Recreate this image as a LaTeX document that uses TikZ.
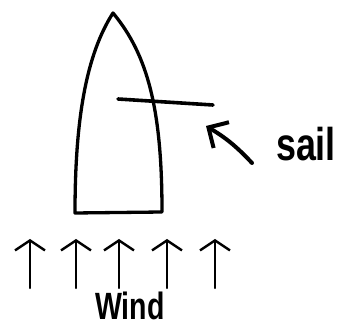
\documentclass[tikz,border=0pt]{standalone}
\usepackage{fontspec}
\setmainfont{Liberation Sans}
\usetikzlibrary{arrows.meta}
\tikzset{
  hull/.style={line width=3.3pt, line join=round, line cap=round},
  windarrow/.style={line width=2.4pt, line cap=round, -{Straight Barb[length=10pt,width=30pt,line width=2.4pt]}},
  sailarrow/.style={line width=4pt, line cap=round, -{Straight Barb[length=15pt,width=30pt,line width=4pt]}},
  lbl/.style={inner sep=0pt, text depth=0pt, font=\bfseries\fontsize{46}{46}\selectfont}
}
\begin{document}
\begin{tikzpicture}[x=1pt,y=-1pt]
\useasboundingbox (0,0) rectangle (343,328);
% hull
\coordinate (tip) at (113,13);
\coordinate (bl) at (75,213);
\coordinate (br) at (162,212);
\draw[hull] (bl) .. controls (75,120) and (86,55) .. (tip)
  .. controls (148,55) and (162,110) .. (br) -- cycle;
% sail
\coordinate (s1) at (118,99);
\coordinate (s2) at (213,105);
\draw[hull, line width=3.6pt] (s1) -- (s2);
% sail pointer
\coordinate (pa) at (252,163);
\coordinate (pb) at (206,126);
\draw[sailarrow] (pa) to[bend right=8] (pb);
\node[lbl, xscale=0.78, anchor=base] (sail) at (306,161) {sail};
% wind arrows
\foreach \i/\x in {1/30,2/76,3/119,4/167,5/215}{
  \coordinate (wb\i) at (\x,288);
  \coordinate (wt\i) at (\x,239);
  \draw[windarrow] (wb\i) -- (wt\i);
}
\node[lbl, font=\bfseries\fontsize{38}{38}\selectfont, xscale=0.75, anchor=base] (wind) at (130,320) {Wind};
\end{tikzpicture}
\end{document}
